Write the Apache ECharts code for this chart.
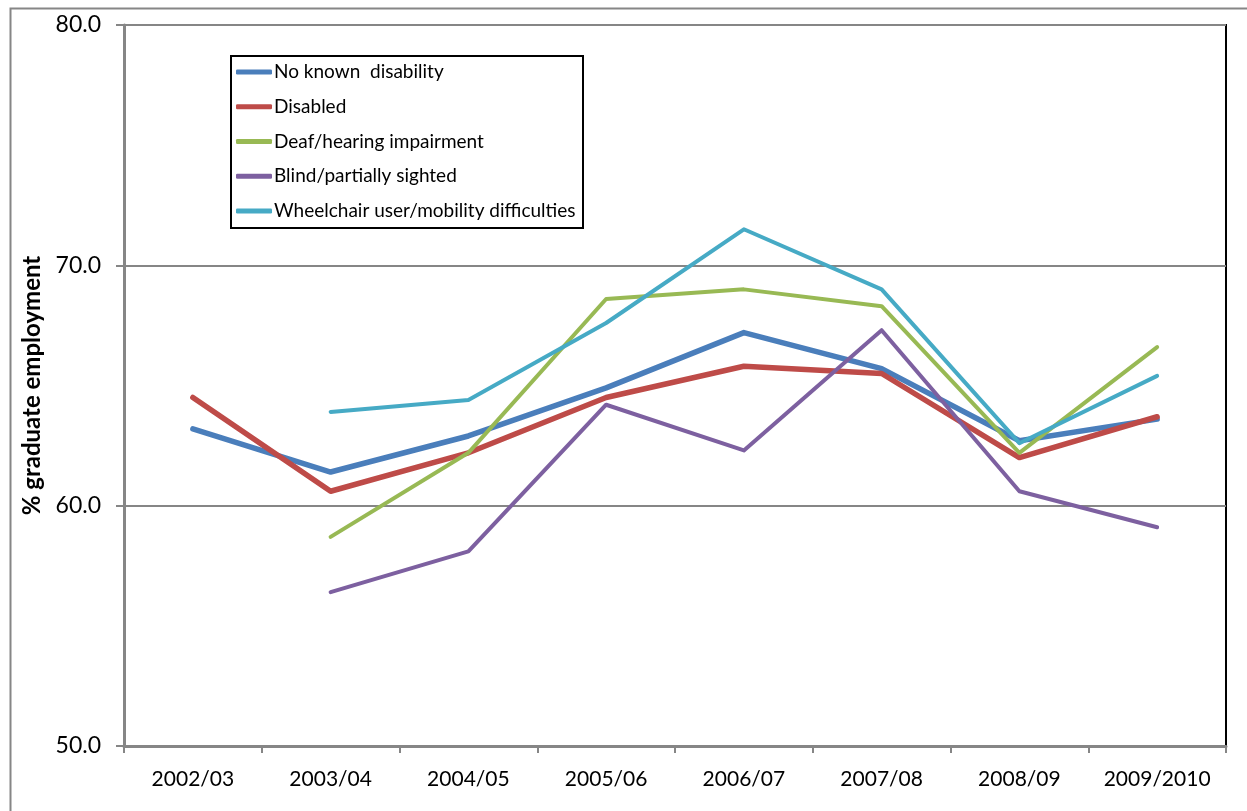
<!DOCTYPE html>
<html>
<head>
<meta charset="utf-8">
<script src="https://cdn.jsdelivr.net/npm/echarts@6/dist/echarts.min.js"></script>
<style>
  html, body { margin: 0; padding: 0; background: #fff; }
  #chart { width: 1247px; height: 811px; }
</style>
</head>
<body>
<div id="chart"></div>
<script>
// Academic years on the category axis
var years = ['2002/03', '2003/04', '2004/05', '2005/06', '2006/07', '2007/08', '2008/09', '2009/2010'];

// % graduate employment by disability group
var noKnownDisability = [63.2, 61.4, 62.9, 64.9, 67.2, 65.7, 62.7, 63.6];
var disabled          = [64.5, 60.6, 62.2, 64.5, 65.8, 65.5, 62.0, 63.7];
var deafHearing       = [null, 58.7, 62.2, 68.6, 69.0, 68.3, 62.2, 66.6];
var blindSighted      = [null, 56.4, 58.1, 64.2, 62.3, 67.3, 60.6, 59.1];
var wheelchairMobility= [null, 63.9, 64.4, 67.6, 71.5, 69.0, 62.6, 65.4];

var seriesNames = [
  'No known  disability',
  'Disabled',
  'Deaf/hearing impairment',
  'Blind/partially sighted',
  'Wheelchair user/mobility difficulties'
];

var FONT = 'Lato, "Open Sans", sans-serif';
var GREY = '#868686';

function lineSeries(name, data, color, width) {
  return {
    name: name,
    type: 'line',
    data: data,
    symbol: 'none',
    showSymbol: false,
    smooth: false,
    color: color,
    lineStyle: { color: color, width: width, cap: 'round', join: 'round' },
    emphasis: { disabled: true }
  };
}

var chart = echarts.init(document.getElementById('chart'), null, { renderer: 'canvas' });

chart.setOption({
  animation: false,
  backgroundColor: '#ffffff',
  textStyle: { fontFamily: FONT, color: '#000' },
  graphic: [
    {
      // outer chart frame
      type: 'rect',
      left: 8, top: 6,
      shape: { x: 0, y: 0, width: 1400, height: 1000 },
      style: { fill: 'none', stroke: GREY, lineWidth: 2 },
      silent: true,
      z: -10
    },
    {
      // legend box
      type: 'rect',
      left: 230, top: 55,
      shape: { x: 0, y: 0, width: 352, height: 172 },
      style: { fill: '#fff', stroke: '#000', lineWidth: 2 },
      silent: true,
      z: 4
    }
  ],
  grid: {
    left: 124, top: 25, right: 21, bottom: 65,
    show: true,
    borderColor: '#000',
    borderWidth: 2,
    backgroundColor: 'transparent'
  },
  legend: {
    data: seriesNames,
    orient: 'vertical',
    left: 236,
    top: 61,
    itemWidth: 36,
    itemHeight: 5,
    itemGap: 12.75,
    icon: 'roundRect',
    padding: 0,
    z: 5,
    textStyle: { fontFamily: FONT, fontSize: 19, color: '#000', lineHeight: 22, padding: [0, 0, 0, -3] },
    selectedMode: false
  },
  xAxis: {
    type: 'category',
    data: years,
    boundaryGap: true,
    axisLine: { show: true, lineStyle: { color: GREY, width: 3 } },
    axisTick: { show: true, interval: 0, length: 7, lineStyle: { color: GREY, width: 2 }, alignWithLabel: false },
    axisLabel: { interval: 0, hideOverlap: false, fontFamily: FONT, fontSize: 21, color: '#000', margin: 23 },
    splitLine: { show: false }
  },
  yAxis: {
    type: 'value',
    min: 50, max: 80, interval: 10,
    name: '% graduate employment',
    nameLocation: 'middle',
    nameRotate: 90,
    nameGap: 80,
    nameTextStyle: { fontFamily: FONT, fontSize: 24, fontWeight: 'bold', color: '#000' },
    axisLine: { show: true, lineStyle: { color: GREY, width: 3 } },
    axisTick: { show: true, length: 8, lineStyle: { color: GREY, width: 2 } },
    axisLabel: {
      fontFamily: FONT, fontSize: 23, color: '#000', margin: 23,
      formatter: function (v) { return v.toFixed(1); }
    },
    splitLine: { show: true, lineStyle: { color: GREY, width: 2 } }
  },
  series: [
    lineSeries(seriesNames[0], noKnownDisability, '#4A7EBB', 5.5),
    lineSeries(seriesNames[1], disabled, '#BE4B48', 5.5),
    lineSeries(seriesNames[2], deafHearing, '#98B954', 4),
    lineSeries(seriesNames[3], blindSighted, '#7D60A0', 4),
    lineSeries(seriesNames[4], wheelchairMobility, '#46AAC5', 4)
  ]
});
</script>
</body>
</html>
